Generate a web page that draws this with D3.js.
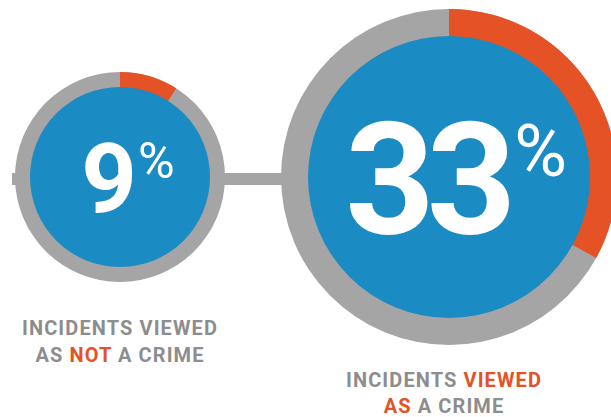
<!DOCTYPE html>
<html>
<head>
<meta charset="utf-8">
<script src="https://cdn.jsdelivr.net/npm/d3@7"></script>
<style>
  body { margin: 0; background: #fff; }
  text { font-family: Roboto, "Liberation Sans", sans-serif; font-weight: 700; }
</style>
</head>
<body>
<script>
var width = 611, height = 417;

// chart values
var names = ['not_crime', 'crime'];
var percents = [9, 33];
var labelLine1 = [
  [{t: 'INCIDENTS VIEWED', hi: false}],
  [{t: 'INCIDENTS ', hi: false}, {t: 'VIEWED', hi: true}]
];
var labelLine2 = [
  [{t: 'AS ', hi: false}, {t: 'NOT', hi: true}, {t: ' A CRIME', hi: false}],
  [{t: 'AS', hi: true}, {t: ' A CRIME', hi: false}]
];

// layout
var centers = [{x: 120, y: 177}, {x: 449, y: 177}];
var outerR = [105, 168];
var innerR = [90, 141];
var numSize = [97, 156];
var pctSize = [50, 72];
var numShift = [8, 7];
var labelX = [120, 444];
var labelY = [[335, 362], [387, 413]];

var blue = '#1b8bc3', gray = '#a6a5a5', orange = '#e45225', textGray = '#8d8d8d';

var svg = d3.select('body')
    .append('svg')
    .attr('width', width)
    .attr('height', height);

// connector line behind the circles
svg.append('line')
    .attr('x1', 12)
    .attr('x2', centers[1].x)
    .attr('y1', 179)
    .attr('y2', 179)
    .style('stroke', gray)
    .style('stroke-width', 12);

var angle = d3.scaleLinear().domain([0, 100]).range([0, 2 * Math.PI]);

var g = svg.selectAll('g.stat')
    .data(percents)
    .enter()
    .append('g')
    .attr('class', function(d, i) { return 'stat ' + names[i]; })
    .attr('transform', function(d, i) { return 'translate(' + centers[i].x + ',' + centers[i].y + ')'; });

// gray ring
g.append('circle')
    .attr('r', function(d, i) { return outerR[i]; })
    .style('fill', gray);

// orange share
g.append('path')
    .attr('d', function(d, i) {
        return d3.arc()
            .innerRadius(innerR[i] - 1)
            .outerRadius(outerR[i])
            .startAngle(0)
            .endAngle(angle(d))();
    })
    .style('fill', orange);

// blue disc
g.append('circle')
    .attr('r', function(d, i) { return innerR[i]; })
    .style('fill', blue);

// big number
var num = g.append('text')
    .attr('text-anchor', 'middle')
    .attr('x', function(d, i) { return numShift[i]; })
    .attr('y', function(d, i) { return i === 0 ? 35 : 56; })
    .style('fill', '#fff');

num.append('tspan')
    .style('font-size', function(d, i) { return numSize[i] + 'px'; })
    .style('letter-spacing', function(d, i) { return i === 0 ? '0px' : '-8px'; })
    .text(function(d) { return d; });

num.append('tspan')
    .style('font-size', function(d, i) { return pctSize[i] + 'px'; })
    .style('font-weight', 400)
    .attr('dx', function(d, i) { return i === 0 ? 1 : 6; })
    .attr('dy', function(d, i) { return i === 0 ? -34 : -57; })
    .text('%');

// labels
[labelLine1, labelLine2].forEach(function(lines, li) {
    svg.selectAll(null)
        .data(lines)
        .enter()
        .append('text')
        .attr('x', function(d, i) { return labelX[i]; })
        .attr('y', function(d, i) { return labelY[i][li]; })
        .attr('text-anchor', 'middle')
        .style('font-size', '20px')
        .style('letter-spacing', '1.1px')
        .selectAll('tspan')
        .data(function(d) { return d; })
        .enter()
        .append('tspan')
        .style('fill', function(d) { return d.hi ? orange : textGray; })
        .text(function(d) { return d.t; });
});
</script>
</body>
</html>
